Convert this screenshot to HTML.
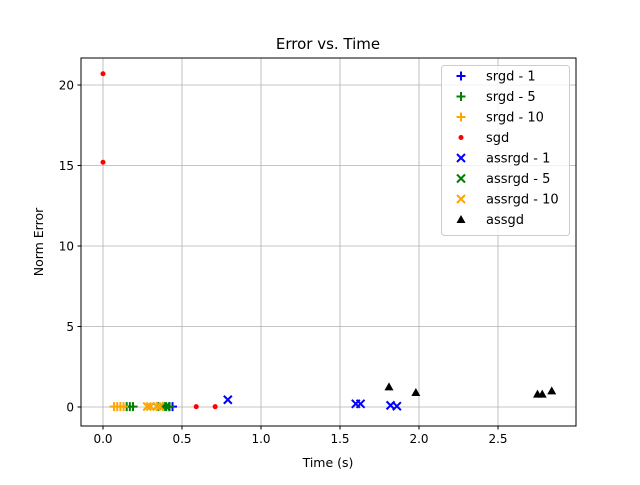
<!DOCTYPE html>
<html><head><meta charset="utf-8"><style>
body{margin:0;background:#fff}
svg{font-family:"DejaVu Sans","Liberation Sans",sans-serif}
</style></head><body>
<svg id="chart" width="640" height="480">
<rect width="640" height="480" fill="#fff"/>
<g id="grid"></g>
<g id="marks"></g>
<rect x="81" y="58" width="495" height="368" fill="none" stroke="#000" stroke-width="1"/>
<g id="ticks" font-size="12"></g>
<text x="328" y="49" font-size="15" text-anchor="middle">Error vs. Time</text>
<text x="328" y="467" font-size="12.5" text-anchor="middle">Time (s)</text>
<text x="43" y="242" font-size="12.5" text-anchor="middle" transform="rotate(-90 43 242)">Norm Error</text>
<g id="legend"></g>
</svg>
<script>
const xTicks=[0,0.5,1,1.5,2,2.5];
const xTickLabels=["0.0","0.5","1.0","1.5","2.0","2.5"];
const yTicks=[0,5,10,15,20];
const yTickLabels=["0","5","10","15","20"];
const seriesNames=["srgd - 1","srgd - 5","srgd - 10","sgd","assrgd - 1","assrgd - 5","assrgd - 10","assgd"];
const srgd1X=[0.42,0.44],srgd1Y=[0.02,0.02];
const srgd5X=[0.15,0.17,0.19,0.40,0.42],srgd5Y=[0.02,0.02,0.02,0.02,0.02];
const srgd10X=[0.07,0.09,0.11,0.13],srgd10Y=[0.02,0.02,0.02,0.02];
const sgdX=[0.0,0.0,0.59,0.71],sgdY=[20.7,15.2,0.02,0.02];
const assrgd1X=[0.79,1.60,1.63,1.82,1.86],assrgd1Y=[0.45,0.2,0.2,0.1,0.05];
const assrgd5X=[0.37,0.40],assrgd5Y=[0.03,0.03];
const assrgd10X=[0.28,0.30,0.34,0.36],assrgd10Y=[0.03,0.03,0.03,0.03];
const assgdX=[1.81,1.98,2.75,2.78,2.84],assgdY=[1.25,0.9,0.8,0.8,1.0];
const series=[[srgd1X,srgd1Y,"blue","plus"],[srgd5X,srgd5Y,"green","plus"],[srgd10X,srgd10Y,"orange","plus"],[sgdX,sgdY,"red","dot"],[assrgd1X,assrgd1Y,"blue","x"],[assrgd5X,assrgd5Y,"green","x"],[assrgd10X,assrgd10Y,"orange","x"],[assgdX,assgdY,"black","tri"]];
const NS="http://www.w3.org/2000/svg";
const sx=v=>103+v*158, sy=v=>407-v*16.1;
function mk(tag,attrs,parent){const e=document.createElementNS(NS,tag);for(const k in attrs)e.setAttribute(k,attrs[k]);parent.appendChild(e);return e;}
function marker(kind,x,y,c,p){
 if(kind==="plus")return mk("path",{d:`M${x-4.5} ${y}H${x+4.5}M${x} ${y-4.5}V${y+4.5}`,stroke:c,"stroke-width":2,fill:"none"},p);
 if(kind==="x")return mk("path",{d:`M${x-4} ${y-4}L${x+4} ${y+4}M${x-4} ${y+4}L${x+4} ${y-4}`,stroke:c,"stroke-width":2,fill:"none"},p);
 if(kind==="dot")return mk("circle",{cx:x,cy:y,r:2.5,fill:c},p);
 return mk("path",{d:`M${x} ${y-4.5}L${x+4.5} ${y+3.5}L${x-4.5} ${y+3.5}Z`,fill:c},p);
}
const grid=document.getElementById("grid"),ticks=document.getElementById("ticks"),marks=document.getElementById("marks"),legend=document.getElementById("legend");
xTicks.forEach((t,i)=>{const x=sx(t);
 const g=mk("line",{x1:x,x2:x,y1:58,y2:426,stroke:"#b0b0b0","stroke-width":0.8},grid);
 
 
 mk("line",{x1:x,x2:x,y1:426,y2:429.5,stroke:"#000"},ticks);
 const tx=mk("text",{x:x,y:443,"text-anchor":"middle"},ticks);tx.textContent=xTickLabels[i];
 
 
});
yTicks.forEach((t,i)=>{const y=sy(t);
 const g=mk("line",{x1:81,x2:576,y1:y,y2:y,stroke:"#b0b0b0","stroke-width":0.8},grid);
 
 
 mk("line",{x1:77.5,x2:81,y1:y,y2:y,stroke:"#000"},ticks);
 const tx=mk("text",{x:74,y:y+4.5,"text-anchor":"end"},ticks);tx.textContent=yTickLabels[i];
 
 
});
series.forEach((s,si)=>{s[0].forEach((xv,i)=>{
 const m=marker(s[3],sx(xv),sy(s[1][i]),s[2],marks);
 
 
});});
const lb=mk("rect",{x:441.5,y:65.5,width:128,height:170,rx:3,fill:"#fff","fill-opacity":0.8,stroke:"#ccc"},legend);


seriesNames.forEach((n,i)=>{const y=76+i*20.5;
 marker(series[i][3],461,y,series[i][2],legend);
 const t=mk("text",{x:486,y:y+4.5,"font-size":13},legend);t.textContent=n;
 
 
});
</script>
</body></html>
